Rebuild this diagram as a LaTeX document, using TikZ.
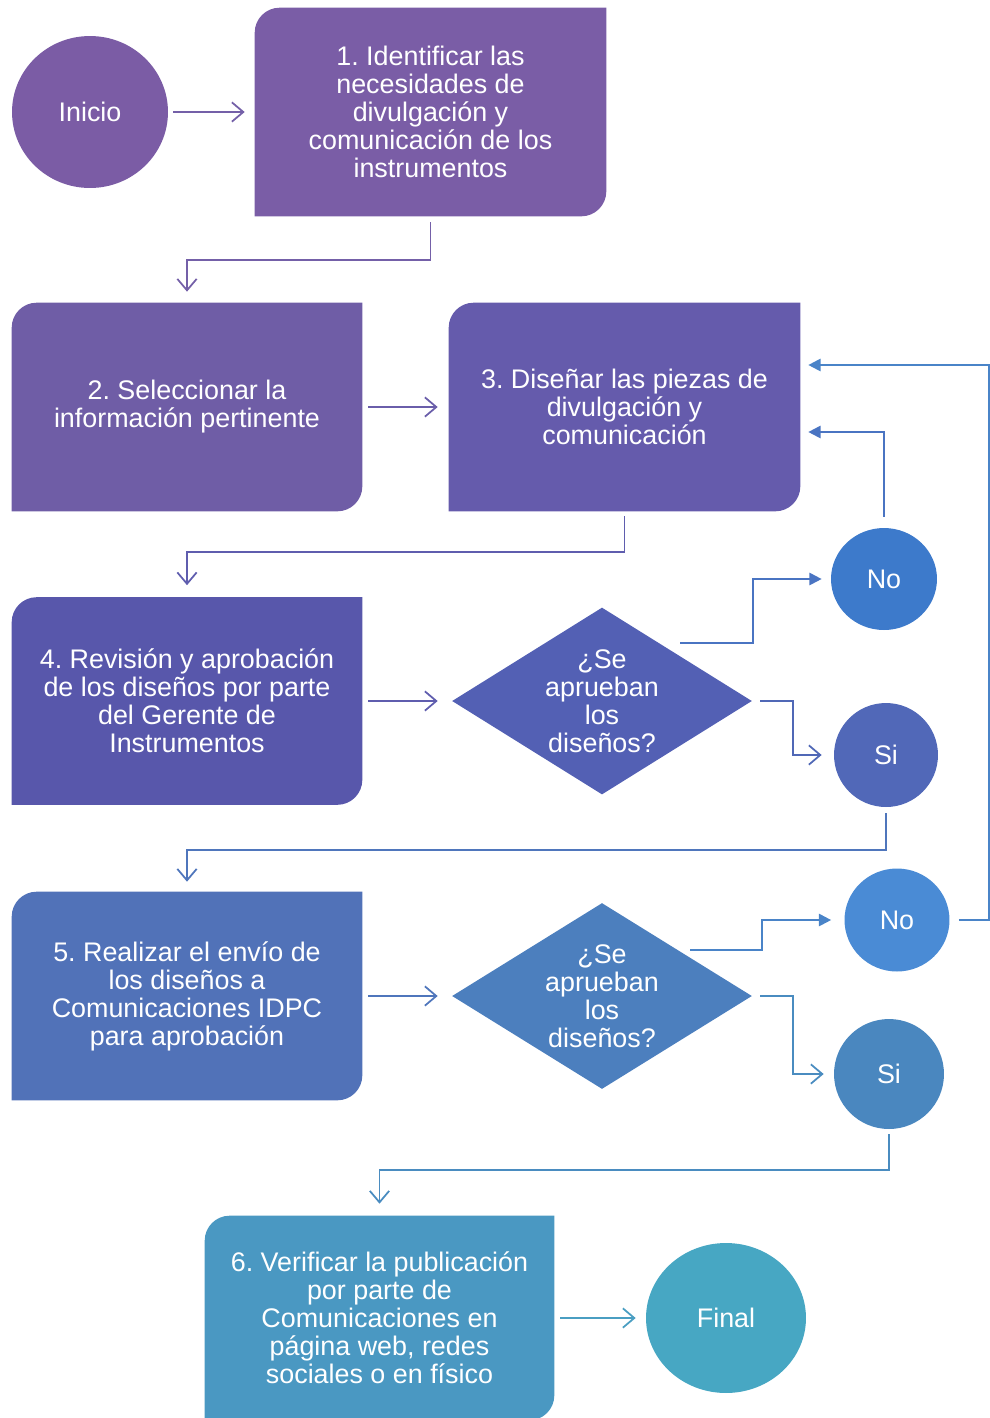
\documentclass[tikz,border=0pt]{standalone}
\usepackage{fontspec}
\setmainfont{Liberation Sans}
\frenchspacing
\usetikzlibrary{arrows.meta,calc,shapes.geometric,backgrounds}
\definecolor{cIni}{HTML}{7B5CA5}
\definecolor{cB1}{HTML}{7A5DA6}
\definecolor{cB2}{HTML}{6F5DA6}
\definecolor{cB3}{HTML}{655BAC}
\definecolor{cB4}{HTML}{5857AB}
\definecolor{cD1}{HTML}{5360B4}
\definecolor{cNo1}{HTML}{3D7ACB}
\definecolor{cSi1}{HTML}{5168B8}
\definecolor{cB5}{HTML}{5172B8}
\definecolor{cD2}{HTML}{4C7FBE}
\definecolor{cNo2}{HTML}{4A8BD5}
\definecolor{cSi2}{HTML}{4A87BF}
\definecolor{cB6}{HTML}{4A98C2}
\definecolor{cFin}{HTML}{47A7C3}
\definecolor{aP1}{HTML}{7460A8}
\definecolor{aP2}{HTML}{6A5EAA}
\definecolor{aP3}{HTML}{5F5DAE}
\definecolor{aB1}{HTML}{4A74C2}
\definecolor{aB2}{HTML}{5068B6}
\definecolor{aB3}{HTML}{4F76BC}
\definecolor{aB4}{HTML}{4A84C8}
\definecolor{aB5}{HTML}{4A8CC0}
\definecolor{aB6}{HTML}{4A9EC2}
\newcommand{\cutfill}[2]{%
  \begin{scope}[on background layer]
  \fill[#2] (#1.south west) -- ($(#1.north west)+(0,25)$) arc[start angle=180,end angle=90,radius=0.5cm]
    -- (#1.north east) -- ($(#1.south east)+(0,-25)$) arc[start angle=0,end angle=-90,radius=0.5cm] -- cycle;
  \end{scope}}
\tikzset{
  txt/.style={text=white,align=center,font=\fontsize{15.3pt}{15.9pt}\selectfont,inner sep=0pt},
  procbox/.style={txt,rectangle,minimum width=7cm,minimum height=4.16cm},
  oval/.style={txt,ellipse,fill=#1},
  decis/.style={diamond,fill=#1,minimum width=6cm,minimum height=3.74cm,inner sep=0pt},
  parr/.style={draw=#1,line width=1.05pt,-{Straight Barb[length=6.5pt,width=11pt,line width=1pt]}},
  farr/.style={draw=#1,line width=1.15pt,-{Triangle[length=7pt,width=7pt]}},
}
\begin{document}
\begin{tikzpicture}[x=0.02cm,y=-0.02cm]
\useasboundingbox (0,0) rectangle (990,1418);
% nodes
\node[oval=cIni,minimum width=3.12cm,minimum height=3.04cm] (ini) at (90,112) {Inicio};
\node[procbox,minimum width=7.02cm] (b1) at (430.5,112) {1. Identificar las\\necesidades de\\divulgación y\\comunicación de los\\instrumentos};
\cutfill{b1}{cB1}
\node[procbox] (b2) at (187,407) {2. Seleccionar la\\información pertinente};
\cutfill{b2}{cB2}
\node[procbox,minimum width=7.02cm] (b3) at (624.5,407) {3. Diseñar las piezas de\\divulgación y\\comunicación};
\cutfill{b3}{cB3}
\node[procbox,minimum height=4.14cm] (b4) at (187,701) {4. Revisión y aprobación\\de los diseños por parte\\del Gerente de\\Instrumentos};
\cutfill{b4}{cB4}
\node[decis=cD1] (d1) at (602,701) {};
\node[txt] (d1t) at (d1.center) {¿Se\\aprueban\\los\\diseños?};
\node[oval=cNo1,minimum width=2.12cm,minimum height=2.04cm] (no1) at (884,579) {No};
\node[oval=cSi1,minimum width=2.08cm,minimum height=2.08cm] (si1) at (886,755) {Si};
\node[procbox] (b5) at (187,996) {5. Realizar el envío de\\los diseños a\\Comunicaciones IDPC\\para aprobación};
\cutfill{b5}{cB5}
\node[decis=cD2,minimum height=3.72cm] (d2) at (602,996) {};
\node[txt] (d2t) at (d2.center) {¿Se\\aprueban\\los\\diseños?};
\node[oval=cNo2,minimum width=2.1cm,minimum height=2.06cm] (no2) at (897,920) {No};
\node[oval=cSi2,minimum width=2.2cm,minimum height=2.2cm] (si2) at (889,1074) {Si};
\node[procbox,minimum width=6.98cm,minimum height=4.08cm] (b6) at (379.5,1318) {6. Verificar la publicación\\por parte de\\Comunicaciones en\\página web, redes\\sociales o en físico};
\cutfill{b6}{cB6}
\node[oval=cFin,minimum width=3.2cm,minimum height=3.0cm] (fin) at (726,1318) {Final};
% connectors
\draw[parr=aP1] ($(ini.east)+(5,0)$) -- ($(b1.west)+(-10,0)$);
\draw[parr=aP1] ($(b1.south)+(0,6)$) |- ($(b2.north)+(0,-43)$) -- ($(b2.north)+(0,-11)$);
\draw[parr=aP2] ($(b2.east)+(6,0)$) -- ($(b3.west)+(-11,0)$);
\draw[parr=aP3] ($(b3.south)+(0,5)$) |- ($(b4.north)+(0,-45)$) -- ($(b4.north)+(0,-12)$);
\draw[parr=aP3] ($(b4.east)+(6,0)$) -- ($(d1.west)+(-14,0)$);
\draw[farr=aB1] ($(d1.center)+(78,-58)$) -- ($(d1.east)+(1,-58)$) |- ($(no1.west)+(-9,0)$);
\draw[farr=aB1] ($(no1.north)+(0,-11)$) |- ($(b3.east)+(8,25)$);
\draw[parr=aB2] ($(d1.east)+(8,0)$) -- ($(d1.east)+(41,0)$) |- ($(si1.west)+(-12,0)$);
\draw[parr=aB3] ($(si1.south)+(0,6)$) |- ($(b5.north)+(0,-42)$) -- ($(b5.north)+(0,-10)$);
\draw[parr=aB3] ($(b5.east)+(6,0)$) -- ($(d2.west)+(-14,0)$);
\draw[farr=aB4] ($(d2.center)+(88,-46)$) -- ($(d2.east)+(10,-46)$) |- ($(no2.west)+(-13,0)$);
\draw[farr=aB4] ($(no2.east)+(9,0)$) -- ($(no2.east)+(39,0)$) |- ($(b3.east)+(8,-42)$);
\draw[parr=aB5] ($(d2.east)+(8,0)$) -- ($(d2.east)+(41,0)$) |- ($(si2.west)+(-10,0)$);
\draw[parr=aB5] ($(si2.south)+(0,5)$) |- ($(b6.north)+(0,-46)$) -- ($(b6.north)+(0,-12)$);
\draw[parr=aB6] ($(b6.east)+(6,0)$) -- ($(fin.west)+(-10,0)$);
\end{tikzpicture}
\end{document}
